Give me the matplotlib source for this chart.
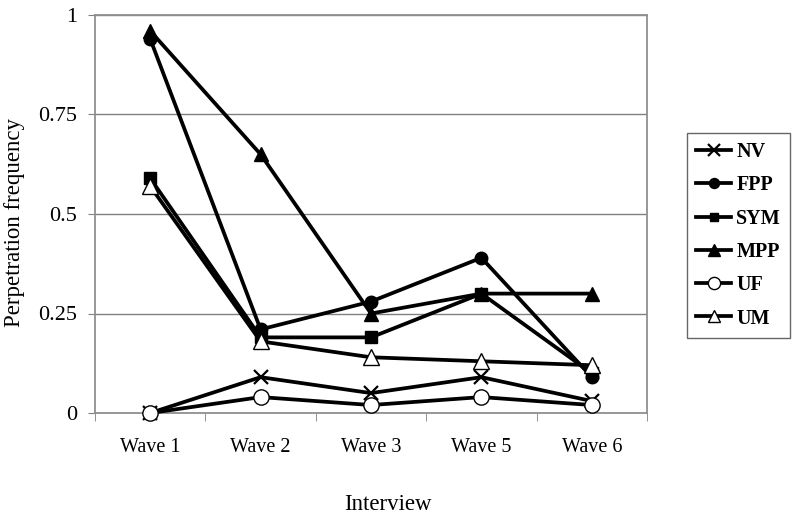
import matplotlib
matplotlib.use("Agg")
import matplotlib.pyplot as plt
import numpy as np

categories = ["Wave 1", "Wave 2", "Wave 3", "Wave 5", "Wave 6"]
series_names = ["NV", "FPP", "SYM", "MPP", "UF", "UM"]
nv = [0.0, 0.09, 0.05, 0.09, 0.03]
fpp = [0.94, 0.21, 0.28, 0.39, 0.09]
sym = [0.59, 0.19, 0.19, 0.30, 0.10]
mpp = [0.96, 0.65, 0.25, 0.30, 0.30]
uf = [0.0, 0.04, 0.02, 0.04, 0.02]
um = [0.57, 0.18, 0.14, 0.13, 0.12]
yticks = [0, 0.25, 0.5, 0.75, 1]
ytick_labels = ["0", "0.25", "0.5", "0.75", "1"]

plt.rcParams['font.family'] = ['Liberation Serif', 'DejaVu Serif']

fig = plt.figure(figsize=(8, 5.18), dpi=100)
ax = fig.add_axes([95/800, 1-413/518, 552/800, 398/518])

x = np.arange(len(categories))
styles = [
    (nv, dict(marker='x', markersize=10, markeredgewidth=1.6, color='black')),
    (fpp, dict(marker='o', markersize=9, color='black')),
    (sym, dict(marker='s', markersize=8, color='black')),
    (mpp, dict(marker='^', markersize=10, color='black')),
    (uf, dict(marker='o', markersize=11, markerfacecolor='white', markeredgecolor='black', markeredgewidth=1.0, color='black')),
    (um, dict(marker='^', markersize=11, markerfacecolor='white', markeredgecolor='black', markeredgewidth=1.0, color='black')),
]
handles = []
for (vals, st), name in zip(styles, series_names):
    h, = ax.plot(x, vals, linewidth=2.7, label=name, clip_on=False, zorder=3, **st)
    handles.append(h)

ax.set_xlim(-0.5, len(categories) - 0.5)
ax.set_ylim(0, 1)
ax.set_yticks(yticks)
ax.set_yticklabels(ytick_labels, fontsize=16)
ax.set_xticks(x)
ax.set_xticklabels(categories, fontsize=14.5)
ax.set_xticks(np.arange(-0.5, len(categories), 1), minor=True)
ax.tick_params(axis='x', which='major', length=0, pad=18)
ax.tick_params(axis='x', which='minor', length=6, color='#808080', direction='out')
ax.tick_params(axis='y', length=5, color='#808080', direction='out', pad=8)
ax.yaxis.grid(True, color='#808080', linewidth=1.0)
ax.set_axisbelow(True)
for s in ['left', 'bottom', 'right', 'top']:
    ax.spines[s].set_color('#909090')
    ax.spines[s].set_linewidth(1.3)

fig.text(15/800, 1-223/518, "Perpetration frequency", fontsize=16.5, rotation=90,
         ha='center', va='center')
fig.text(388/800, 1-505/518, "Interview", fontsize=16.5, ha='center', va='center')

leg = fig.legend(handles=handles, loc='upper left', bbox_to_anchor=(687/800, 1-133/518),
                 frameon=True, fancybox=False, edgecolor='#404040',
                 prop={'weight': 'bold', 'size': 14.5}, handlelength=1.75,
                 labelspacing=0.66, borderpad=0.45, handletextpad=0.25, borderaxespad=0,
                 markerscale=0.8)
leg.get_frame().set_linewidth(1.0)

fig.savefig("out.png", dpi=100)
